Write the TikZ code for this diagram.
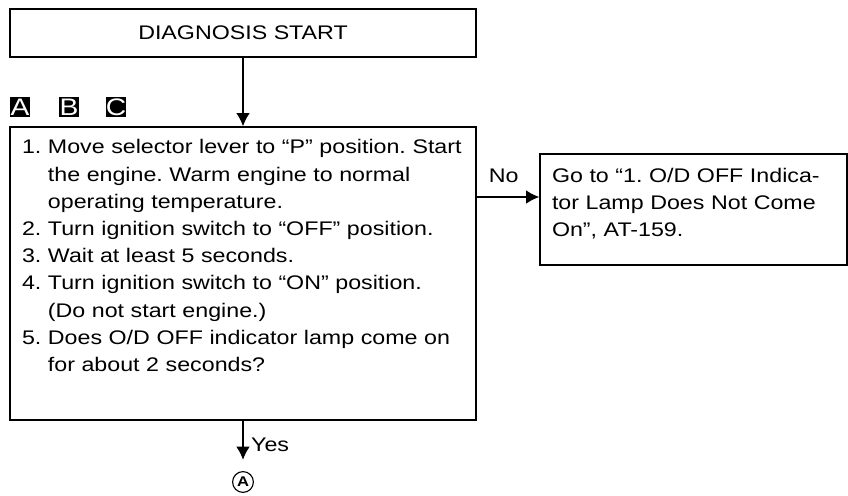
\documentclass[tikz,border=0pt]{standalone}
\usepackage{fontspec}
\setmainfont{Liberation Sans}[FakeStretch=1.18]
\usetikzlibrary{arrows.meta}
\frenchspacing
\begin{document}
\begin{tikzpicture}[>={Latex[length=3.3mm,width=3.4mm]}, line width=1pt,
  every node/.style={font=\fontsize{14}{19.35}\selectfont},
  box/.style={draw, line width=1pt},
  badge/.style={fill=black, text=white, minimum size=0.52cm, inner sep=0pt, font=\fontsize{17}{17}\selectfont}]
\useasboundingbox (0,0) rectangle (21.2,-12.375);
\node[box, minimum width=11.65cm, minimum height=1.2cm] (start) at (6.075,-0.825) {DIAGNOSIS START};
\node[badge] (ba) at (0.5,-2.675) {A};
\node[badge] (bb) at (1.725,-2.675) {B};
\node[badge] (bc) at (2.9,-2.675) {C};
\node[box, minimum width=11.65cm, minimum height=7.325cm, inner xsep=0.3cm, text width=11.05cm, align=left] (check) at (6.075,-6.8375) {\begin{tabular}{@{}l@{\ }l@{}}
1. & Move selector lever to “P” position. Start\\
 & the engine. Warm engine to normal\\
 & operating temperature.\\
2. & Turn ignition switch to “OFF” position.\\
3. & Wait at least 5 seconds.\\
4. & Turn ignition switch to “ON” position.\\
 & (Do not start engine.)\\
5. & Does O/D OFF indicator lamp come on\\
 & for about 2 seconds?\rule[-1.02cm]{0pt}{0pt}
\end{tabular}};
\node[box, minimum width=7.675cm, minimum height=2.775cm, inner xsep=0.3cm, text width=7.075cm, align=left] (remedy) at (17.3375,-5.2375) {Go to “1. O/D OFF Indica-\\tor Lamp Does Not Come\\On”, AT-159.\rule[-0.35cm]{0pt}{0pt}};
\node[circle, draw, line width=0.8pt, minimum size=0.52cm, inner sep=0pt, font=\bfseries\fontsize{10}{10}\selectfont] (conn) at (6.075,-12.05) {A};
% connectors
\draw[->] (start) -- (check);
\draw[->] ([yshift=0.3125cm]remedy.west -| check.east) -- node[above, yshift=6pt, xshift=-3pt] (no) {No} ([yshift=0.3125cm]remedy.west);
\draw[->, shorten >=0.28cm] (check.south) -- node[right, xshift=2pt, yshift=1pt] (yes) {Yes} (conn.north);
\end{tikzpicture}
\end{document}
